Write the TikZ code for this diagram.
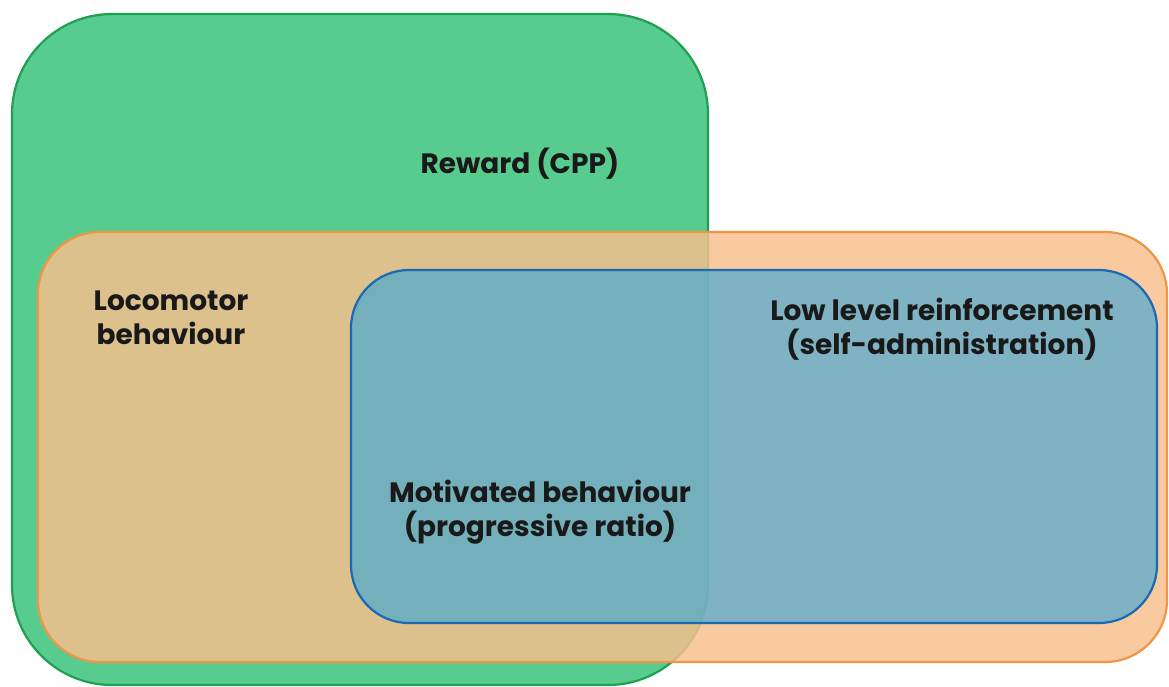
\documentclass[tikz,border=0pt]{standalone}
\usepackage{xcolor}
\usepackage{fontspec}
\newfontfamily\gothic{Poppins}
\definecolor{rewardfill}{RGB}{88,204,142}
\definecolor{rewardline}{RGB}{30,160,80}
\definecolor{locofill}{RGB}{248,191,141}
\definecolor{locoline}{RGB}{236,150,70}
\definecolor{motivfill}{RGB}{46,166,220}
\definecolor{motivline}{RGB}{25,105,180}
\begin{document}
\begin{tikzpicture}[x=1pt,y=-1pt,
		label/.style={font=\gothic\bfseries\fontsize{28}{34}\selectfont, align=center, text=black!90, inner sep=0pt},
		setbox/.style={line width=2.2pt}]
			\useasboundingbox (0,0) rectangle (1169,686);
			\draw[setbox, rewardline, fill=rewardfill, rounded corners=100] (12,14) rectangle (708,685);
			\draw[setbox, locoline, fill=locofill, fill opacity=0.83, rounded corners=62] (38,232) rectangle (1167,662);
			\draw[setbox, motivline, fill=motivfill, fill opacity=0.6, rounded corners=58] (351,270) rectangle (1157,623);
			\node[label] (reward) at (520,164) {Reward (CPP)};
			\node[label] (loco) at (171,318) {Locomotor\\behaviour};
			\node[label] (lowlevel) at (942,329) {Low level reinforcement\\(self-administration)};
			\node[label] (motiv) at (540,512) {Motivated behaviour\\(progressive ratio)};
		\end{tikzpicture}
\end{document}
